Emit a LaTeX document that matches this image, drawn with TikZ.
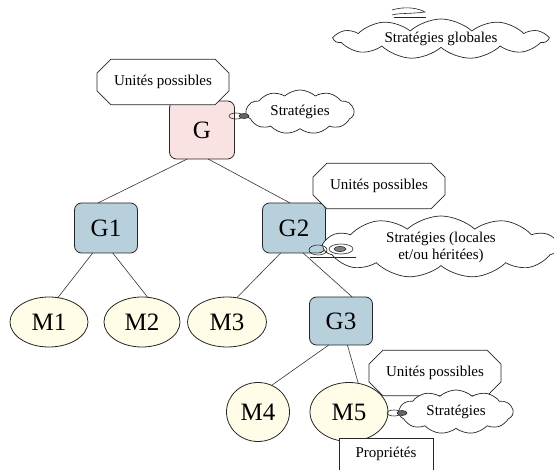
\documentclass[tikz,border=0pt]{standalone}
\usepackage{fontspec}
\setmainfont{Liberation Serif}
\usetikzlibrary{shapes.geometric,shapes.symbols,shapes.misc}
\definecolor{gpink}{RGB}{251,226,226}
\definecolor{gblue}{RGB}{184,208,220}
\definecolor{mcream}{RGB}{255,253,232}
\begin{document}
\begin{tikzpicture}[x=1pt,y=-1pt,
  every node/.style={inner sep=0pt, outer sep=0pt},
  edge/.style={draw=black!80, line width=0.6pt},
  gbox/.style={draw=black!85, line width=0.8pt, rounded corners=7pt,
    minimum width=63pt, minimum height=50pt, font=\fontsize{25}{27}\selectfont},
  mell/.style={draw=black!85, ellipse, fill=mcream, line width=0.8pt,
    minimum width=78pt, minimum height=50pt, font=\fontsize{25}{27}\selectfont},
  callout/.style={draw=black!85, fill=white, line width=0.7pt, chamfered rectangle,
    chamfered rectangle xsep=7pt, chamfered rectangle ysep=7pt,
    inner xsep=10pt, inner ysep=9pt, font=\fontsize{15}{17}\selectfont},
  strat/.style={draw=black!85, fill=white, line width=0.7pt, cloud, cloud puffs=11,
    cloud puff arc=85, cloud ignores aspect, font=\fontsize{15}{17}\selectfont},
  deco/.style={draw=black!85, line width=0.6pt}
]
\useasboundingbox (0,0) rectangle (554,470);

% tree nodes
\node[gbox, fill=gpink, minimum width=65pt, minimum height=58pt] (G) at (202,130) {G};
\node[gbox, fill=gblue] (G1) at (106,228) {G1};
\node[gbox, fill=gblue] (G2) at (294,228) {G2};
\node[gbox, fill=gblue, minimum height=48pt] (G3) at (341,321) {G3};
\node[mell] (M1) at (49,322) {M1};
\node[mell, minimum width=76pt] (M2) at (142,322) {M2};
\node[mell, minimum width=79pt] (M3) at (227,322) {M3};
\node[mell, minimum width=63pt, minimum height=59pt] (M4) at (258,412) {M4};
\node[mell, minimum width=78pt, minimum height=59pt] (M5) at (349,412) {M5};

% edges
\draw[edge] (G.243) -- (G1.108);
\draw[edge] (G.282) -- (G2.99);
\draw[edge] (G1.242) -- (M1.70);
\draw[edge] (G1.285) -- (M2.77);
\draw[edge] (G2.242) -- (M3.68);
\draw[edge] (G2.290) -- (G3.65);
\draw[edge] (G3.243) -- (M4.63);
\draw[edge] (G3.285) -- (M5.72);

% callouts
\node[callout] (U1) at (163,82) {Unités possibles};
\node[callout] (U2) at (379,186) {Unités possibles};
\node[callout] (U3) at (435,373) {Unités possibles};
\node[draw=black!85, fill=white, line width=0.7pt, minimum width=94pt, minimum height=32pt,
  font=\fontsize{15}{17}\selectfont] (P) at (386,454) {Propriétés};

% clouds
\node[strat, minimum width=212pt, minimum height=40pt] (SG) at (441,39) {Stratégies globales};
\node[strat, minimum width=108pt, minimum height=44pt] (S1) at (300,112) {Stratégies};
\node[strat, minimum width=234pt, minimum height=62pt, align=center] (S2) at (441,247)
  {Stratégies (locales\\et/ou héritées)};
\node[strat, minimum width=114pt, minimum height=44pt] (S3) at (456,412) {Stratégies};

% small decorative links
\draw[deco] (236,116) ellipse (7 and 3);
\draw[deco, fill=black!60] (244,116) ellipse (5 and 2.5);
\draw[deco] (318,250) ellipse (9 and 5);
\draw[deco] (341,249) ellipse (12 and 5);
\draw[deco, fill=black!50] (340,249) ellipse (6 and 2.5);
\draw[deco] (310,257) -- (356,257);
\draw[deco] (394,413) ellipse (7 and 3);
\draw[deco, fill=black!60] (402,413) ellipse (5 and 2.5);
\draw[deco] (392,10) .. controls (405,6) and (418,8) .. (425,12) .. controls (410,14) and (398,13) .. (392,15);
\draw[deco] (394,17) -- (426,17);
\end{tikzpicture}
\end{document}
